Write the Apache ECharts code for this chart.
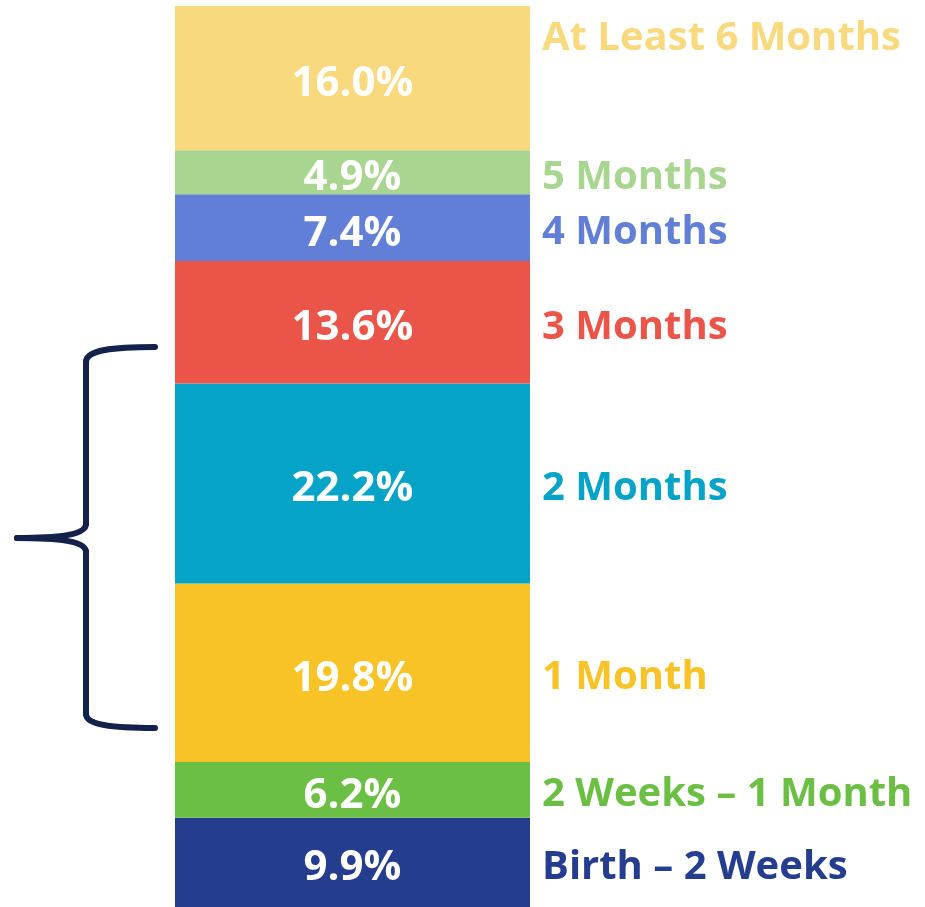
<!DOCTYPE html>
<html>
<head>
<meta charset="utf-8">
<script src="https://cdn.jsdelivr.net/npm/echarts@6/dist/echarts.min.js"></script>
<style>
  html, body { margin: 0; padding: 0; background: #fff; }
  #chart { width: 925px; height: 907px; }
</style>
</head>
<body>
<div id="chart"></div>
<script>
// bottom to top
const stages = ['Birth – 2 Weeks', '2 Weeks – 1 Month', '1 Month', '2 Months', '3 Months', '4 Months', '5 Months', 'At Least 6 Months']
const shares = [9.9, 6.2, 19.8, 22.2, 13.6, 7.4, 4.9, 16.0]
const colors = ['#253d8e', '#6cbf45', '#f7c327', '#05a3c7', '#eb5449', '#617fd6', '#a8d590', '#f9d97e']

const chart = echarts.init(document.getElementById('chart'))
const font = '"Open Sans", "Noto Sans", sans-serif'

// visible segments with the value inside
const segSeries = stages.map((name, i) => ({
  name: name,
  type: 'bar',
  stack: 'seg',
  barWidth: '100%',
  data: [shares[i]],
  itemStyle: { color: colors[i] },
  label: {
    show: true,
    position: 'inside',
    offset: [0, 6],
    formatter: (p) => p.value.toFixed(1) + '%',
    color: '#fff',
    fontFamily: font,
    fontWeight: 'bold',
    fontSize: 42
  }
}))

// invisible copies that carry the stage names on the right
const nameSeries = stages.map((name, i) => {
  const top = i === stages.length - 1
  return {
    name: name + ' ',
    type: 'bar',
    stack: 'names',
    barWidth: '100%',
    barGap: '-100%',
    silent: true,
    data: [shares[i]],
    itemStyle: { color: 'rgba(0,0,0,0)' },
    label: {
      show: true,
      position: top ? [367, 13] : 'right',
      distance: 12,
      offset: top ? [0, 0] : [0, 5],
      align: 'left',
      verticalAlign: top ? 'top' : 'middle',
      formatter: name,
      color: colors[i],
      fontFamily: font,
      fontWeight: 'bold',
      fontSize: 40
    }
  }
})

// brace on the left
const braceStyle = { fill: null, stroke: '#14214a', lineWidth: 6, lineCap: 'round' }
const curve = (x1, y1, cpx1, cpy1, cpx2, cpy2, x2, y2) => ({
  type: 'bezierCurve', shape: { x1, y1, cpx1, cpy1, cpx2, cpy2, x2, y2 }, style: braceStyle
})
const seg = (x1, y1, x2, y2) => ({ type: 'line', shape: { x1, y1, x2, y2 }, style: braceStyle })

chart.setOption({
  animation: false,
  grid: { left: 175, right: 395, top: 6, bottom: 0 },
  xAxis: { type: 'category', data: ['share'], show: false },
  yAxis: { type: 'value', min: 0, max: 100, show: false },
  series: segSeries.concat(nameSeries),
  graphic: [
    curve(155, 347, 112, 347, 86, 350, 86, 362),
    seg(86, 362, 86, 524),
    curve(86, 524, 86, 534, 62, 538, 17, 538),
    curve(17, 538, 62, 538, 86, 542, 86, 552),
    seg(86, 552, 86, 714),
    curve(86, 714, 86, 725, 112, 728, 155, 728)
  ]
})
</script>
</body>
</html>
